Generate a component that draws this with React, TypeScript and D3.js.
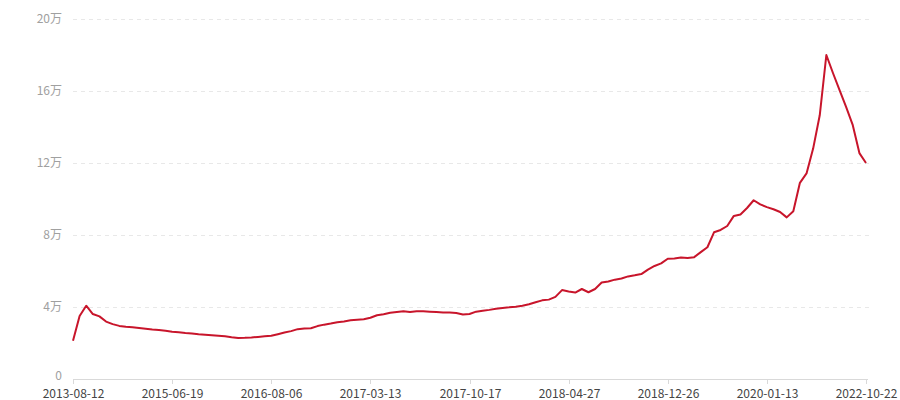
import React from "react";
import * as d3 from "d3";

const tickLabels = [
  "2013-08-12", "2015-06-19", "2016-08-06", "2017-03-13", "2017-10-17",
  "2018-04-27", "2018-12-26", "2020-01-13", "2022-10-22",
];
const tickEvery = 15;

const values = [
  21200, 35000, 40700, 36100, 34800, 31900, 30500, 29500, 29000, 28700,
  28300, 27900, 27500, 27200, 26800, 26300, 26000, 25600, 25300, 24900,
  24600, 24300, 24000, 23700, 23200, 22800, 22900, 23100, 23400, 23700,
  24000, 24900, 25800, 26600, 27700, 28000, 28200, 29400, 30200, 30800,
  31500, 32000, 32600, 32900, 33200, 34000, 35400, 36000, 36800, 37200,
  37600, 37200, 37600, 37600, 37400, 37200, 37000, 36900, 36700, 35800,
  36100, 37400, 37900, 38400, 39000, 39500, 39800, 40200, 40700, 41500,
  42600, 43700, 44100, 45600, 49400, 48600, 48000, 50000, 48200, 50000,
  53600, 54200, 55200, 55800, 57000, 57600, 58300, 60800, 62800, 64200,
  66800, 67000, 67500, 67200, 67700, 70500, 73200, 81500, 82800, 85000,
  90600, 91400, 95000, 99300, 97000, 95500, 94300, 92800, 89800, 93200,
  109000, 114200, 128000, 146500, 180000, 170000, 160500, 151000, 141000, 125500,
  120000,
];

const yTicks = [0, 40000, 80000, 120000, 160000, 200000];

export default function App() {
  const W = 900, H = 400;
  const left = 73, right = 866, top = 19, bottom = 379;
  const x = d3.scaleLinear().domain([0, values.length - 1]).range([left, right]);
  const y = d3.scaleLinear().domain([0, 200000]).range([bottom, top]);
  const line = d3.line<number>().x((_, i) => x(i)).y((d) => y(d));
  const fmt = (v: number) => (v === 0 ? "0" : `${v / 10000}万`);
  const font = "'Microsoft YaHei', 'Noto Sans CJK SC', sans-serif";

  return (
    <svg width={W} height={H} style={{ position: "absolute", left: 0, top: 0 }}>
      <rect width={W} height={H} fill="#fff" />
      {yTicks.filter((t) => t > 0).map((t) => (
        <line key={t} x1={left} x2={871} y1={y(t) + 0.5} y2={y(t) + 0.5}
          stroke="#e8e8e8" strokeDasharray="4,4" />
      ))}
      {yTicks.map((t) => (
        <text key={"yl" + t} x={62} y={y(t)} dy={t === 0 ? "0.12em" : "0.35em"} textAnchor="end"
          fontSize={12} fill="#a0a0a0" fontFamily={font}>{fmt(t)}</text>
      ))}
      <line x1={left} x2={868} y1={bottom + 0.5} y2={bottom + 0.5} stroke="#d9d9d9" />
      {tickLabels.map((lab, k) => {
        const xx = Math.round(x(k * tickEvery)) + 0.5;
        return (
          <g key={lab}>
            <line x1={xx} x2={xx} y1={bottom} y2={bottom + 5} stroke="#d9d9d9" />
            <text x={xx} y={bottom + 19} textAnchor="middle" fontSize={12}
              fill="#444" fontFamily={font}>{lab}</text>
          </g>
        );
      })}
      <path d={line(values) || ""} fill="none" stroke="#c8152b" strokeWidth={2}
        strokeLinejoin="round" />
    </svg>
  );
}
